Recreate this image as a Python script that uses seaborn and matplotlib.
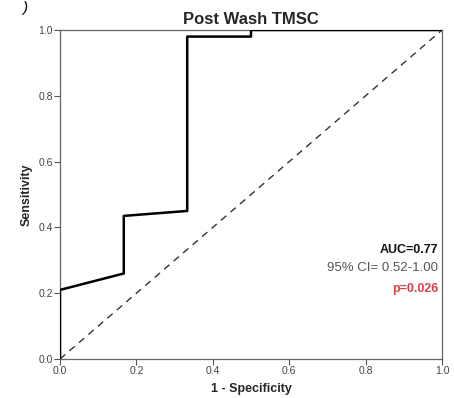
import matplotlib
matplotlib.use("Agg")
import matplotlib.pyplot as plt
import seaborn as sns
import pandas as pd

# ROC curve data
fpr = [0.0, 0.0, 0.167, 0.167, 0.333, 0.333, 0.5, 0.5, 1.0]
tpr = [0.0, 0.21, 0.26, 0.435, 0.45, 0.98, 0.98, 1.0, 1.0]
ref_x = [0.0, 1.0]
ref_y = [0.0, 1.0]
ticks = [0.0, 0.2, 0.4, 0.6, 0.8, 1.0]
title = "Post Wash TMSC"
auc_text = "AUC=0.77"
ci_text = "95% CI= 0.52-1.00"
p_text = "p=0.026"

sns.set_theme(style="white")
plt.rcParams['font.family'] = ['Liberation Sans', 'DejaVu Sans']

fig = plt.figure(figsize=(4.54, 3.98), dpi=100)
ax = fig.add_axes([60/454, 1-359/398, 382/454, 329/398])

df = pd.DataFrame({"fpr": fpr, "tpr": tpr})
sns.lineplot(data=df, x="fpr", y="tpr", sort=False, estimator=None,
             color="black", linewidth=1.8, ax=ax, zorder=3)
sns.lineplot(x=ref_x, y=ref_y, color="#333333", linewidth=1.0,
             linestyle=(0, (5, 4)), ax=ax, zorder=2)

ax.set_xlim(0, 1)
ax.set_ylim(0, 1)
ax.set_xticks(ticks)
ax.set_yticks(ticks)
ax.set_xticklabels([f"{t:.1f}" for t in ticks])
ax.set_yticklabels([f"{t:.1f}" for t in ticks])
ax.tick_params(axis="both", which="both", length=4, width=0.8, color="#555555",
               labelsize=7.5, labelcolor="#444444", direction="out", pad=1,
               bottom=True, left=True)
for s in ax.spines.values():
    s.set_color("#666666")
    s.set_linewidth(0.9)

ax.set_xlabel("1 - Specificity", fontsize=9, fontweight="bold", labelpad=5)
ax.set_ylabel("Sensitivity", fontsize=9, fontweight="bold", labelpad=4)
ax.set_title(title, fontsize=12, fontweight="bold", pad=4)

ax.text(0.99, 0.33, auc_text, ha="right", va="center", fontsize=9,
        fontweight="bold", color="#111111")
ax.text(0.99, 0.277, ci_text, ha="right", va="center", fontsize=9.5,
        color="#555555")
ax.text(0.99, 0.213, p_text, ha="right", va="center", fontsize=9,
        fontweight="bold", color="#d9434a")

fig.text(22/454, 1-1/398, ")", fontsize=11, style="italic", color="black",
         ha="left", va="top")

fig.savefig("out.png", dpi=100)
